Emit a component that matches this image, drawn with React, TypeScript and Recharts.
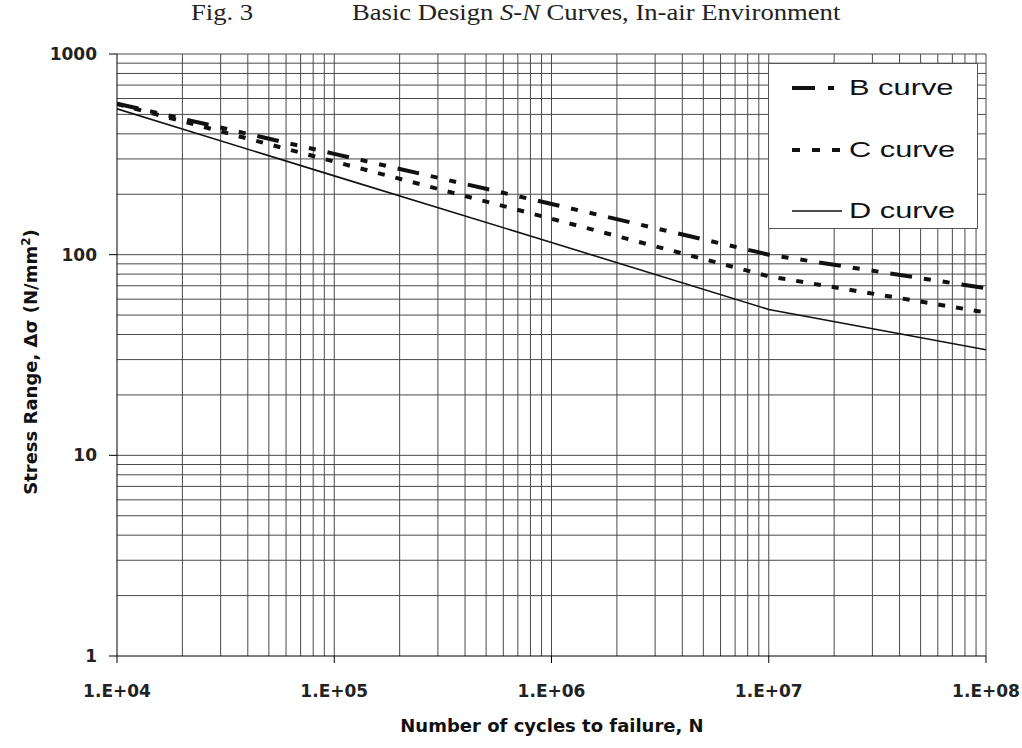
import React from "react";
import { LineChart, Line, XAxis, YAxis, ReferenceLine } from "recharts";

const cycles = [1e4, 1e5, 1e6, 1e7, 1e8];
const bCurve = [566, 318, 179, 100, 68];
const cCurve = [564, 291, 151, 78, 51.5];
const dCurve = [533, 247, 115, 53.3, 33.6];

const xTicks = [1e4, 1e5, 1e6, 1e7, 1e8];
const yTicks = [1, 10, 100, 1000];
const xTickLabels = ["1.E+04", "1.E+05", "1.E+06", "1.E+07", "1.E+08"];
const yTickLabels = ["1", "10", "100", "1000"];

const mult = [1, 2, 3, 4, 5, 6, 7, 8, 9];
const xGrid: number[] = [];
[1e4, 1e5, 1e6, 1e7].forEach((d) => mult.forEach((m) => { if (d * m > 1e4) xGrid.push(d * m); }));
xGrid.push(1e8);
const yGrid: number[] = [];
[1, 10, 100].forEach((d) => mult.forEach((m) => { if (d * m > 1) yGrid.push(d * m); }));
yGrid.push(1000);

const data = cycles.map((n, i) => ({ n, b: bCurve[i], c: cCurve[i], d: dCurve[i] }));

const legendItems = [
  { label: "B curve", dash: "23 13 6 100", width: 4 },
  { label: "C curve", dash: "8 12", width: 4 },
  { label: "D curve", dash: "", width: 1.5 },
];

const tickFont = { fontFamily: "DejaVu Sans", fontWeight: 700, fontSize: 17, fill: "#222" };

export default function App() {
  return (
    <div style={{ position: "absolute", left: 0, top: 0, width: 1022, height: 748, background: "#fff" }}>
      <LineChart width={1022} height={748} data={data} margin={{ top: 54, right: 36, left: 57, bottom: 52 }}>
        <XAxis
          dataKey="n"
          type="number"
          scale="log"
          domain={[1e4, 1e8]}
          ticks={xTicks}
          allowDataOverflow
          height={40}
          tickSize={7}
          tickMargin={22}
          stroke="#000"
          tick={tickFont}
          tickFormatter={(v: number) => xTickLabels[xTicks.indexOf(v)] ?? ""}
        />
        <YAxis
          type="number"
          scale="log"
          domain={[1, 1000]}
          ticks={yTicks}
          allowDataOverflow
          width={60}
          tickSize={8}
          tickMargin={12}
          stroke="#000"
          tick={tickFont}
          tickFormatter={(v: number) => yTickLabels[yTicks.indexOf(v)] ?? ""}
        />
        {xGrid.map((v) => (
          <ReferenceLine key={"x" + v} x={v} stroke="#4a4a4a" strokeWidth={1} />
        ))}
        {yGrid.map((v) => (
          <ReferenceLine key={"y" + v} y={v} stroke="#4a4a4a" strokeWidth={1} />
        ))}
        <Line dataKey="d" stroke="#111" strokeWidth={1.6} dot={false} isAnimationActive={false} />
        <Line dataKey="c" stroke="#111" strokeWidth={4} strokeDasharray="7 11" dot={false} isAnimationActive={false} />
        <Line dataKey="b" stroke="#111" strokeWidth={4} strokeDasharray="22 12 7 12 7 12" dot={false} isAnimationActive={false} />
      </LineChart>

      <div style={{ position: "absolute", left: 191, top: 0, lineHeight: "24px", fontFamily: "Liberation Serif", fontSize: 24, color: "#222", whiteSpace: "nowrap", transform: "scaleX(1.11)", transformOrigin: "left center" }}>
        Fig. 3
      </div>
      <div style={{ position: "absolute", left: 352, top: 0, lineHeight: "24px", fontFamily: "Liberation Serif", fontSize: 24, color: "#222", whiteSpace: "nowrap", transform: "scaleX(1.11)", transformOrigin: "left center" }}>
        Basic Design <i>S-N</i> Curves, In-air Environment
      </div>

      <div style={{ position: "absolute", left: 768, top: 63, width: 208, height: 164, background: "#fff", border: "1px solid #555" }}>
        {legendItems.map((it, i) => (
          <div key={it.label} style={{ position: "absolute", left: 23, top: 7 + i * 61.5, height: 34, display: "flex", alignItems: "center" }}>
            <svg width={50} height={10} style={{ marginRight: 7 }}>
              <line x1={0} y1={5} x2={50} y2={5} stroke="#111" strokeWidth={it.width} strokeDasharray={it.dash || undefined} />
            </svg>
            <span style={{ display: "inline-block", fontFamily: "Liberation Sans", fontSize: 22, color: "#111", whiteSpace: "nowrap", transform: "scaleX(1.4)", transformOrigin: "left center" }}>{it.label}</span>
          </div>
        ))}
      </div>

      <div style={{ position: "absolute", left: 0, width: 1104, top: 715, textAlign: "center", fontFamily: "DejaVu Sans", fontWeight: 900, fontSize: 18, color: "#111", whiteSpace: "nowrap" }}>
        Number of cycles to failure, N
      </div>
      <div style={{ position: "absolute", left: 30, top: 362, width: 0, height: 0 }}>
        <div style={{ position: "absolute", transform: "translate(-50%, -50%) rotate(-90deg)", fontFamily: "DejaVu Sans", fontWeight: 900, fontSize: 18, color: "#111", whiteSpace: "nowrap" }}>
          Stress Range, Δσ (N/mm<sup style={{ fontSize: 12 }}>2</sup>)
        </div>
      </div>
    </div>
  );
}
